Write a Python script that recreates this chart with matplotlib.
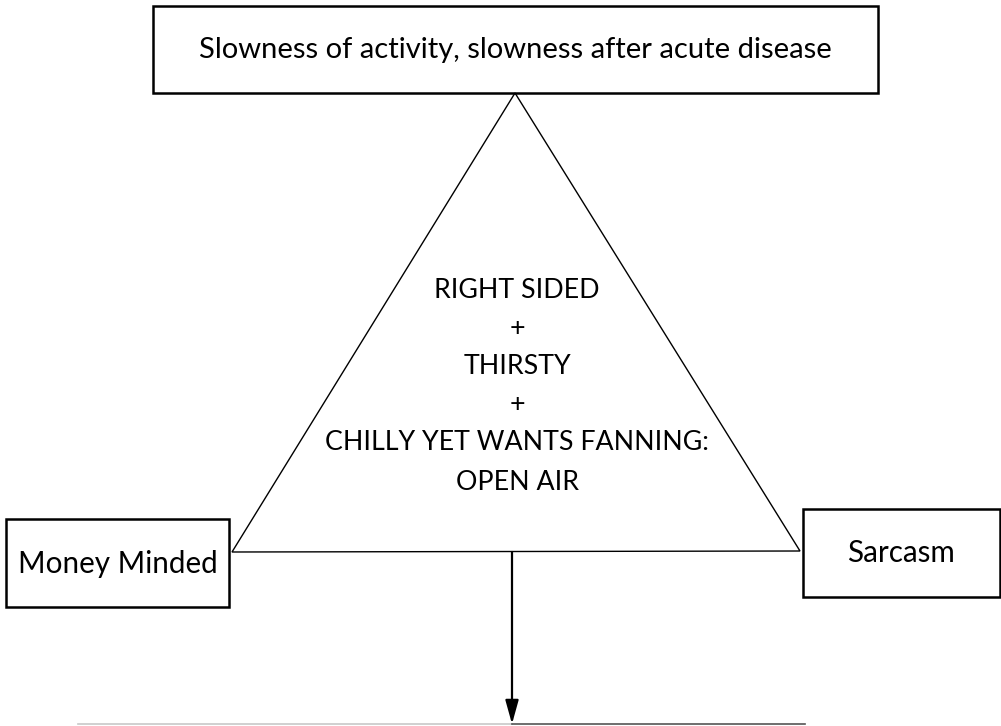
import matplotlib
matplotlib.use('Agg')
import matplotlib.pyplot as plt
from matplotlib.patches import Rectangle, Polygon

plt.rcParams['font.family'] = ['Lato', 'DejaVu Sans']

# diagram content
top_label = 'Slowness of activity, slowness after acute disease'
left_label = 'Money Minded'
right_label = 'Sarcasm'
center_lines = ['RIGHT SIDED', '+', 'THIRSTY', '+', 'CHILLY YET WANTS FANNING:', 'OPEN AIR']
center_y = [290, 328, 367, 405, 443, 482]

# boxes: (x0, y0, x1, y1) in pixel space
top_box = (153, 6, 878, 93)
left_box = (6, 519, 229, 607)
right_box = (803, 509, 1000, 597)
triangle = [(515, 93), (232, 552), (800, 551)]

fig = plt.figure(figsize=(10.01, 7.26), dpi=100)
ax = fig.add_axes([0, 0, 1, 1])
ax.set_xlim(0, 1001)
ax.set_ylim(726, 0)
ax.axis('off')

for (x0, y0, x1, y1) in [top_box, left_box, right_box]:
    ax.add_patch(Rectangle((x0, y0), x1 - x0, y1 - y0, fill=False, ec='black', lw=1.8))

ax.add_patch(Polygon(triangle, closed=True, fill=False, ec='black', lw=1.0))

ax.text(515, 50, top_label, ha='center', va='center', fontsize=21)
ax.text(118, 564, left_label, ha='center', va='center', fontsize=21.3)
ax.text(901, 553, right_label, ha='center', va='center', fontsize=21.3)
for s, y in zip(center_lines, center_y):
    ax.text(517, y, s, ha='center', va='center', fontsize=19.3)

# arrow down from triangle base
ax.annotate('', xy=(512, 724), xytext=(512, 552),
            arrowprops=dict(arrowstyle='-|>,head_length=0.9,head_width=0.25',
                            color='black', lw=1.6,
                            mutation_scale=16, shrinkA=0, shrinkB=0))

# faint baseline at the bottom
ax.plot([78, 512], [724, 724], color='#c8c8c8', lw=1.2)
ax.plot([512, 805], [724, 724], color='#555555', lw=1.2)

fig.savefig('out.png', dpi=100)
